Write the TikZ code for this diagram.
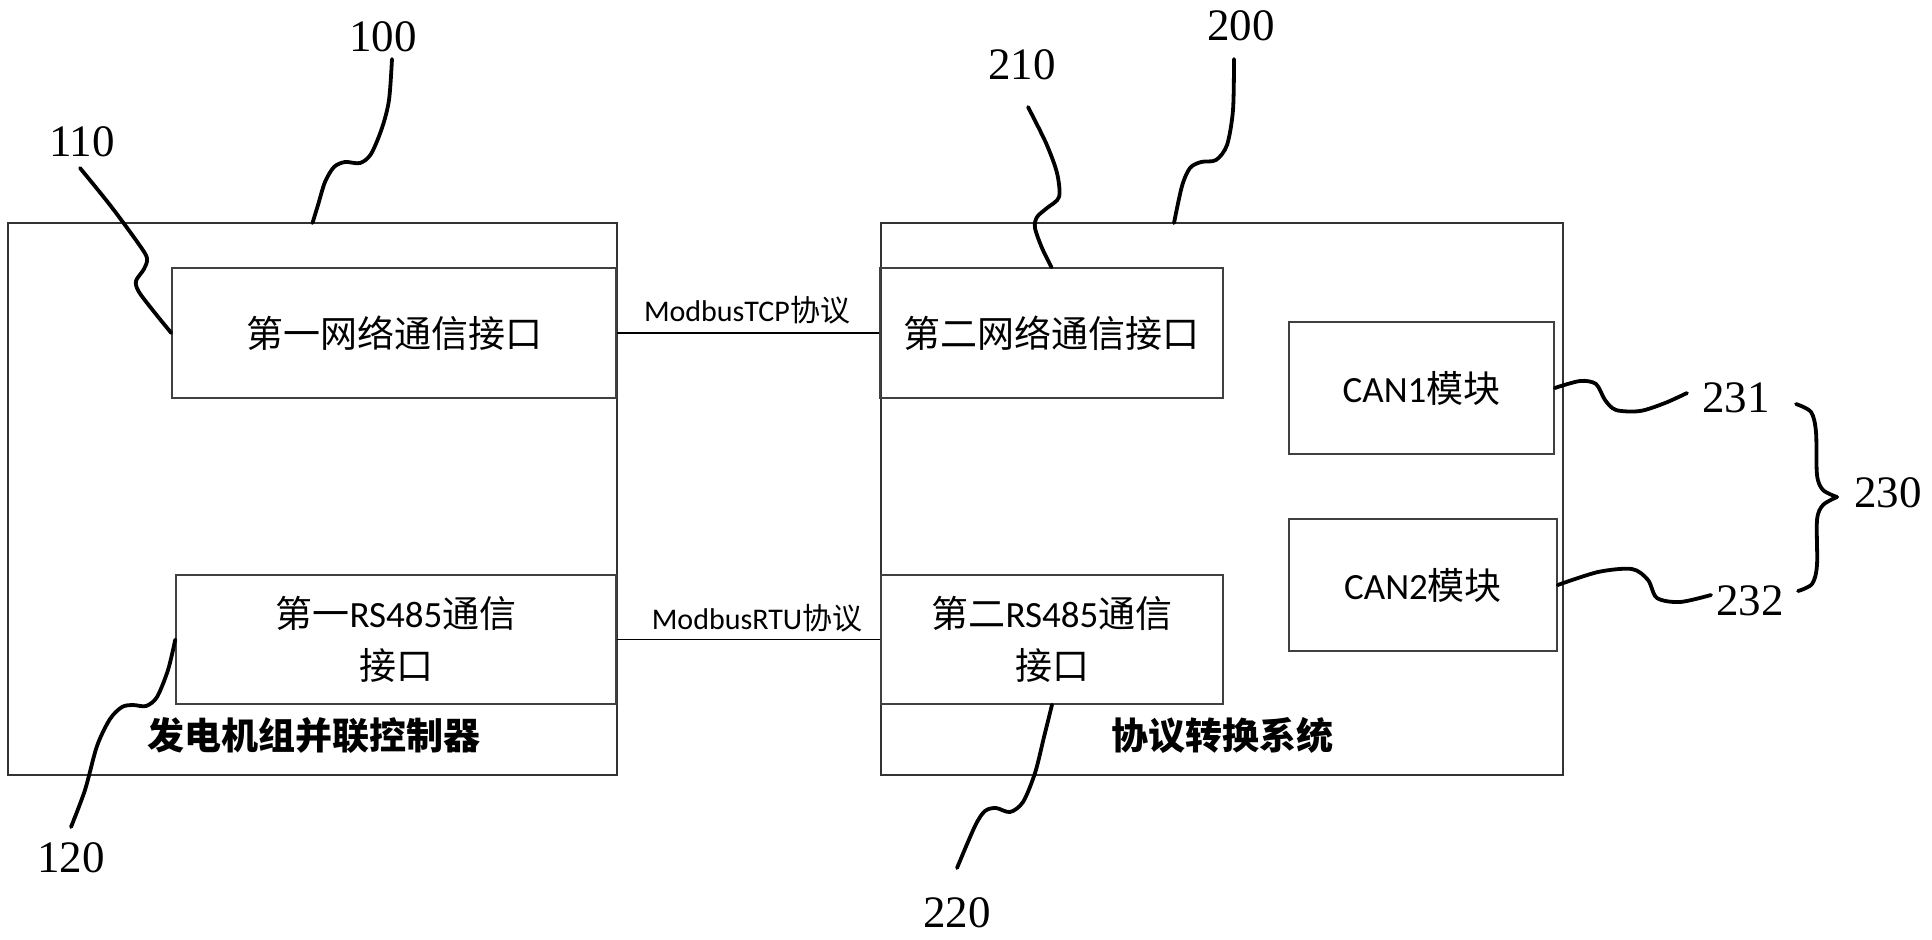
\documentclass[tikz,border=0pt]{standalone}
\usepackage{fontspec}
\setmainfont{Carlito}
\newfontfamily\cjk{Noto Sans CJK SC}
\newfontfamily\numf{Liberation Serif}
\begin{document}
\begin{tikzpicture}[x=0.5pt,y=-0.5pt,
  outerbox/.style={draw=black!80,line width=0.7pt,inner sep=0pt},
  innerbox/.style={draw=black!75,line width=0.7pt,inner sep=0pt,align=center,font=\fontsize{18.5pt}{26pt}\selectfont},
  numlbl/.style={font=\numf\fontsize{22.5pt}{24pt}\selectfont,inner sep=0pt},
  proto/.style={font=\fontsize{15pt}{17pt}\selectfont,inner sep=0pt},
  title/.style={font=\cjk\bfseries\fontsize{18.5pt}{20pt}\selectfont,inner sep=0pt},
  lead/.style={line width=1.9pt,line cap=round,line join=round},
  link/.style={line width=0.7pt}]
\useasboundingbox (0,0) rectangle (1932,939);
% outer boxes
\node[outerbox,minimum width=304.5pt,minimum height=276pt] (b100) at (312.5,499) {};
\node[outerbox,minimum width=341pt,minimum height=276pt] (b200) at (1222,499) {};
% inner boxes
\node[innerbox,minimum width=222pt,minimum height=65pt] (b110) at (394,333) {\cjk 第一网络通信接口};
\node[innerbox,minimum width=220pt,minimum height=64.5pt] (b120) at (396,639.5) {{\cjk 第一}RS485{\cjk 通信}\\{\cjk 接口}};
\node[innerbox,minimum width=171.5pt,minimum height=65pt] (b210) at (1051.5,333) {\cjk 第二网络通信接口};
\node[innerbox,minimum width=171pt,minimum height=64.5pt] (b220) at (1052,639.5) {{\cjk 第二}RS485{\cjk 通信}\\{\cjk 接口}};
\node[innerbox,minimum width=132.5pt,minimum height=66pt] (can1) at (1421.5,388) {CAN1{\cjk 模块}};
\node[innerbox,minimum width=134pt,minimum height=66pt] (can2) at (1423,585) {CAN2{\cjk 模块}};
% titles
\node[title] (t100) at (314,735) {发电机组并联控制器};
\node[title] (t200) at (1222,735) {协议转换系统};
% links
\draw[link] (b110.east) -- (b210.west);
\draw[link] (b120.east) -- (b220.west);
\node[proto] (tcp) at (747,310) {ModbusTCP{\cjk 协议}};
\node[proto] (rtu) at (757,618) {ModbusRTU{\cjk 协议}};
% number labels
\node[numlbl] (n100) at (383,37) {100};
\node[numlbl] (n110) at (82,142) {110};
\node[numlbl] (n120) at (71,858) {120};
\node[numlbl] (n200) at (1241,26) {200};
\node[numlbl] (n210) at (1022,65) {210};
\node[numlbl] (n220) at (957,913) {220};
\node[numlbl] (n231) at (1736,398) {231};
\node[numlbl] (n232) at (1750,601) {232};
\node[numlbl] (n230) at (1888,493) {230};
% leaders
\draw[lead] plot[smooth,tension=0.5] coordinates {(392,59) (389,100) (382,128) (371,154) (360,163) (345,162) (334,167) (325,182) (318,205) (312.5,223)};
\draw[lead] plot[smooth,tension=0.5] coordinates {(80,168) (110,205) (138,243) (147,258) (144,269) (136,281) (139,292) (155,313) (b110.west)};
\draw[lead] plot[smooth,tension=0.5] coordinates {(b120.west) (168,670) (157,697) (146,706) (133,705) (122,707) (110,719) (97,746) (85,790) (71,827)};
\draw[lead] plot[smooth,tension=0.5] coordinates {(1028,107) (1046,143) (1057,173) (1059,197) (1047,208) (1037,217) (1035,228) (1042,248) (b210.north)};
\draw[lead] plot[smooth,tension=0.5] coordinates {(1234,59) (1233,110) (1227,145) (1216,160) (1201,162) (1190,168) (1182,186) (1174,223)};
\draw[lead] plot[smooth,tension=0.5] coordinates {(b220.south) (1044,737) (1035,773) (1023,802) (1010,812) (996,808) (985,811) (975,826) (957,868)};
\draw[lead] plot[smooth,tension=0.5] coordinates {(can1.east) (1580,381) (1596,384) (1605,400) (1616,410) (1640,411) (1665,403) (1687,393)};
\draw[lead] plot[smooth,tension=0.5] coordinates {(can2.east) (1598,572) (1632,569) (1648,580) (1657,598) (1680,602) (1711,595)};
% brace
\draw[lead] plot[smooth,tension=0.5] coordinates {(1796,404) (1811,412) (1816,432) (1817,475) (1823,490) (1837,497)};
\draw[lead] plot[smooth,tension=0.5] coordinates {(1837,497) (1823,505) (1817,520) (1817,565) (1812,584) (1798,591)};
\end{tikzpicture}
\end{document}
